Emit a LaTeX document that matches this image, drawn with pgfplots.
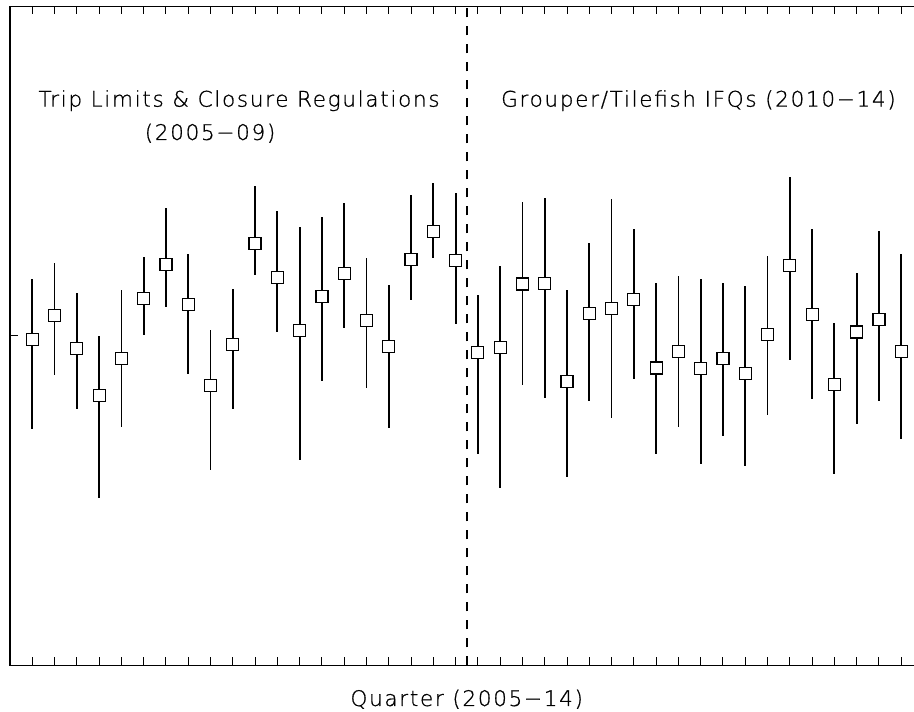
\documentclass[border=0pt]{standalone}
\usepackage{fontspec}
\setmainfont{DejaVu Sans ExtraLight}[LetterSpace=8, FakeBold=0.8]
\usepackage{pgfplots}
\pgfplotsset{compat=1.18}
\usepackage{pgfplotstable}

\newcommand\lbl{\fontsize{21.5}{26}\selectfont}

% quarter, index, upper and lower ends of the interval
\pgfplotstableread{
q    y      hi     lo
1    0.990  1.172  0.718
2    1.061  1.222  0.881
3    0.961  1.130  0.779
4    0.820  1.000  0.509
5    0.932  1.139  0.725
6    1.113  1.239  1.003
7    1.218  1.389  1.089
8    1.095  1.248  0.886
9    0.850  1.018  0.592
10   0.974  1.142  0.779
11   1.281  1.455  1.185
12   1.177  1.380  1.011
13   1.017  1.331  0.625
14   1.120  1.360  0.863
15   1.189  1.403  1.025
16   1.048  1.238  0.842
17   0.969  1.155  0.720
18   1.233  1.429  1.109
19   1.318  1.465  1.236
20   1.228  1.433  1.036
21   0.951  1.124  0.641
22   0.966  1.212  0.540
23   1.158  1.406  0.850
24   1.160  1.419  0.811
25   0.863  1.141  0.573
26   1.069  1.283  0.804
27   1.083  1.417  0.750
28   1.110  1.324  0.869
29   0.903  1.160  0.643
30   0.954  1.183  0.725
31   0.902  1.172  0.612
32   0.932  1.162  0.696
33   0.886  1.152  0.605
34   1.004  1.242  0.759
35   1.215  1.482  0.927
36   1.066  1.325  0.808
37   0.853  1.040  0.581
38   1.012  1.190  0.732
39   1.049  1.318  0.804
40   0.952  1.250  0.687
}\quarters

\begin{document}
\begin{tikzpicture}
\begin{axis}[
  scale only axis, width=913.5pt, height=659pt,
  xmin=0, xmax=41, ymin=0, ymax=2,
  xtick={1,...,40}, xticklabels={}, xtick pos=both,
  ytick={1}, yticklabels={}, ytick pos=left,
  major tick length=8pt,
  tick style={black, line width=1pt},
  axis line style={line width=1.8pt},
  clip=false,
  xlabel={Quarter (2005−14)},
  xlabel style={at={(rel axis cs:0.5,0)}, anchor=base, yshift=-40.5pt, font=\lbl},
]
  \coordinate (ll) at (rel axis cs:0,0);
  \addplot[black, line width=2pt, dash pattern=on 9pt off 9pt] coordinates {(20.5,0) (20.5,2)};
  \addplot[only marks, mark=square*, mark size=6pt,
    mark options={fill=white, draw=black, line width=1.2pt},
    error bars/.cd, y dir=both, y explicit, error mark=none,
    error bar style={line width=1.8pt, black}]
    table[x=q, y=y, y error plus expr=\thisrow{hi}-\thisrow{y},
          y error minus expr=\thisrow{y}-\thisrow{lo}] {\quarters};
  \node[anchor=base, font=\lbl] at (axis cs:10.28,1.696) {Trip Limits \& Closure Regulations};
  \node[anchor=base, font=\lbl] at (axis cs:8.98,1.595) {(2005−09)};
  \node[anchor=base, font=\lbl] at (axis cs:30.9,1.696) {Grouper/Tilefish IFQs (2010−14)};
\end{axis}
\pgfresetboundingbox
\path[use as bounding box] ([shift={(-10pt,-46.5pt)}]ll) rectangle ([shift={(904pt,665.5pt)}]ll);
\end{tikzpicture}
\end{document}
